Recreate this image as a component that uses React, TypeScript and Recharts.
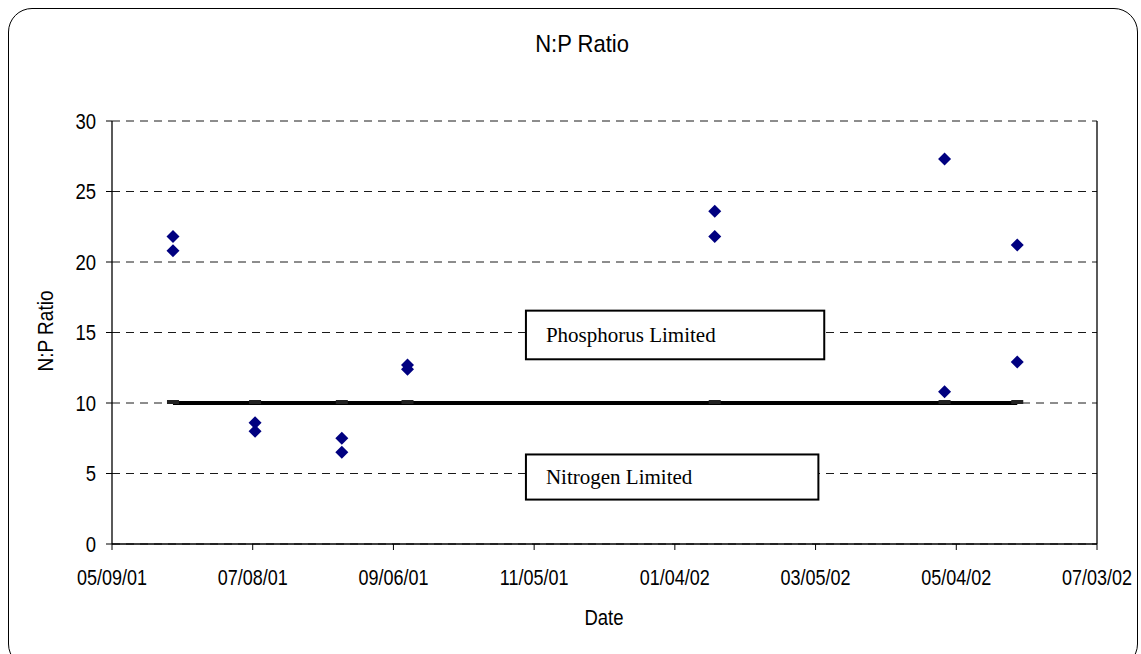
import React from "react";
import {
  ComposedChart,
  Scatter,
  Line,
  XAxis,
  YAxis,
  CartesianGrid,
  ReferenceArea,
  ReferenceLine,
} from "recharts";

// ---- data ----
const axisDates = [
  "2001-05-09",
  "2001-07-08",
  "2001-09-06",
  "2001-11-05",
  "2002-01-04",
  "2002-03-05",
  "2002-05-04",
  "2002-07-03",
];
const sampleDates = [
  "2001-06-04",
  "2001-07-09",
  "2001-08-15",
  "2001-09-12",
  "2002-01-21",
  "2002-04-29",
  "2002-05-30",
];
const ratioFirst = [21.8, 8.6, 7.5, 12.7, 23.6, 27.3, 21.2];
const ratioSecond = [20.8, 8.0, 6.5, 12.4, 21.8, 10.8, 12.9];
const limitRatio = [10, 10, 10, 10, 10, 10, 10];
const yTicks = [0, 5, 10, 15, 20, 25, 30];
const zoneLabels = ["Phosphorus Limited", "Nitrogen Limited"];

const toDay = (s: string) => {
  const [y, m, d] = s.split("-").map(Number);
  return Date.UTC(y, m - 1, d) / 86400000;
};
const fmtDate = (day: number) => {
  const dt = new Date(day * 86400000);
  const mm = String(dt.getUTCMonth() + 1).padStart(2, "0");
  const dd = String(dt.getUTCDate()).padStart(2, "0");
  const yy = String(dt.getUTCFullYear() % 100).padStart(2, "0");
  return `${mm}/${dd}/${yy}`;
};

const xTicks = axisDates.map(toDay);
const xMin = xTicks[0];
const xMax = xTicks[xTicks.length - 1];

const points = sampleDates.flatMap((d, i) => [
  { day: toDay(d), ratio: ratioFirst[i] },
  { day: toDay(d), ratio: ratioSecond[i] },
]);
const limitData = sampleDates.map((d, i) => ({ day: toDay(d), limit: limitRatio[i] }));

const SANS = "'Liberation Sans', Arial, sans-serif";
const SERIF = "'Liberation Serif', 'Times New Roman', serif";

const Diamond = (props: any) => {
  const { cx, cy } = props;
  const r = 6.5;
  return (
    <polygon
      points={`${cx},${cy - r} ${cx + r},${cy} ${cx},${cy + r} ${cx - r},${cy}`}
      fill="#000080"
    />
  );
};

const DashDot = (props: any) => {
  const { cx, cy, index } = props;
  return <rect key={`d${index}`} x={cx - 6} y={cy - 3} width={12} height={4} fill="#222" />;
};

const XTick = (props: any) => {
  const { x, y, payload } = props;
  return (
    <g transform={`translate(${x},${y + 33})`}>
      <text
        transform="scale(1,1.2)"
        textAnchor="middle"
        fontFamily={SANS}
        fontSize={18}
        fill="#000"
      >
        {fmtDate(payload.value)}
      </text>
    </g>
  );
};

const YTick = (props: any) => {
  const { x, y, payload } = props;
  return (
    <g transform={`translate(${x - 8},${y + 7.5})`}>
      <text
        transform="scale(1,1.15)"
        textAnchor="end"
        fontFamily={SANS}
        fontSize={18.5}
        fill="#000"
      >
        {payload.value}
      </text>
    </g>
  );
};

const makeBox = (label: string) => (props: any) => {
  const { x, y, width, height } = props;
  return (
    <g>
      <rect x={x} y={y} width={width} height={height} fill="#fff" stroke="#000" strokeWidth={2} />
      <text
        x={x + 20}
        y={y + height / 2}
        dy={7}
        fontFamily={SERIF}
        fontSize={21}
        fill="#000"
      >
        {label}
      </text>
    </g>
  );
};

// annotation boxes, placed in axis units (days after the first axis date, ratio)
const boxes = [
  { label: zoneLabels[0], d1: 176.5, d2: 303.7, r1: 13.1, r2: 16.55 },
  { label: zoneLabels[1], d1: 176.5, d2: 301.2, r1: 3.15, r2: 6.35 },
];

export default function App() {
  return (
    <div
      style={{
        position: "absolute",
        left: 0,
        top: 0,
        width: 1141,
        height: 654,
        overflow: "hidden",
        background: "#fff",
        fontFamily: SANS,
      }}
    >
      <div
        style={{
          position: "absolute",
          left: 8,
          top: 8,
          width: 1130,
          height: 660,
          border: "1.5px solid #000",
          borderRadius: 24,
          boxSizing: "border-box",
        }}
      />
      <div
        style={{
          position: "absolute",
          left: 0,
          width: 1164,
          top: 31,
          textAlign: "center",
          fontSize: 22,
          color: "#000",
          transform: "scaleY(1.1)",
        }}
      >
        N:P Ratio
      </div>
      <div
        style={{
          position: "absolute",
          left: 0,
          width: 1208,
          top: 607,
          textAlign: "center",
          fontSize: 18.5,
          color: "#000",
          transform: "scaleY(1.15)",
        }}
      >
        Date
      </div>
      <div
        style={{
          position: "absolute",
          left: 46,
          top: 331,
          transform: "translate(-50%, -50%) rotate(-90deg) scaleY(1.12)",
          fontSize: 19,
          whiteSpace: "nowrap",
          color: "#000",
        }}
      >
        N:P Ratio
      </div>
      <div style={{ position: "absolute", left: 0, top: 0 }}>
        <ComposedChart
          width={1141}
          height={654}
          margin={{ top: 121, right: 44, bottom: 50, left: 0 }}
        >
          <CartesianGrid
            horizontal
            vertical={false}
            stroke="#1a1a1a"
            strokeDasharray="8 6"
          />
          <XAxis
            type="number"
            dataKey="day"
            domain={[xMin, xMax]}
            ticks={xTicks}
            interval={0}
            height={60}
            axisLine={{ stroke: "#000", strokeWidth: 1.3 }}
            tickLine={{ stroke: "#000" }}
            tickSize={6}
            tick={<XTick />}
            allowDataOverflow
          />
          <YAxis
            type="number"
            domain={[0, 30]}
            ticks={yTicks}
            interval={0}
            width={112}
            axisLine={{ stroke: "#000", strokeWidth: 1.3 }}
            tickLine={{ stroke: "#000" }}
            tickSize={6}
            tick={<YTick />}
          />
          <ReferenceLine x={xMax} stroke="#000" strokeWidth={1.3} />
          {boxes.map((b) => (
            <ReferenceArea
              key={b.label}
              x1={xMin + b.d1}
              x2={xMin + b.d2}
              y1={b.r1}
              y2={b.r2}
              shape={makeBox(b.label)}
              ifOverflow="visible"
            />
          ))}
          <Line
            data={limitData}
            dataKey="limit"
            stroke="#000"
            strokeWidth={4}
            dot={<DashDot />}
            activeDot={false}
            isAnimationActive={false}
          />
          <Scatter
            data={points}
            dataKey="ratio"
            shape={<Diamond />}
            isAnimationActive={false}
          />
        </ComposedChart>
      </div>
    </div>
  );
}
